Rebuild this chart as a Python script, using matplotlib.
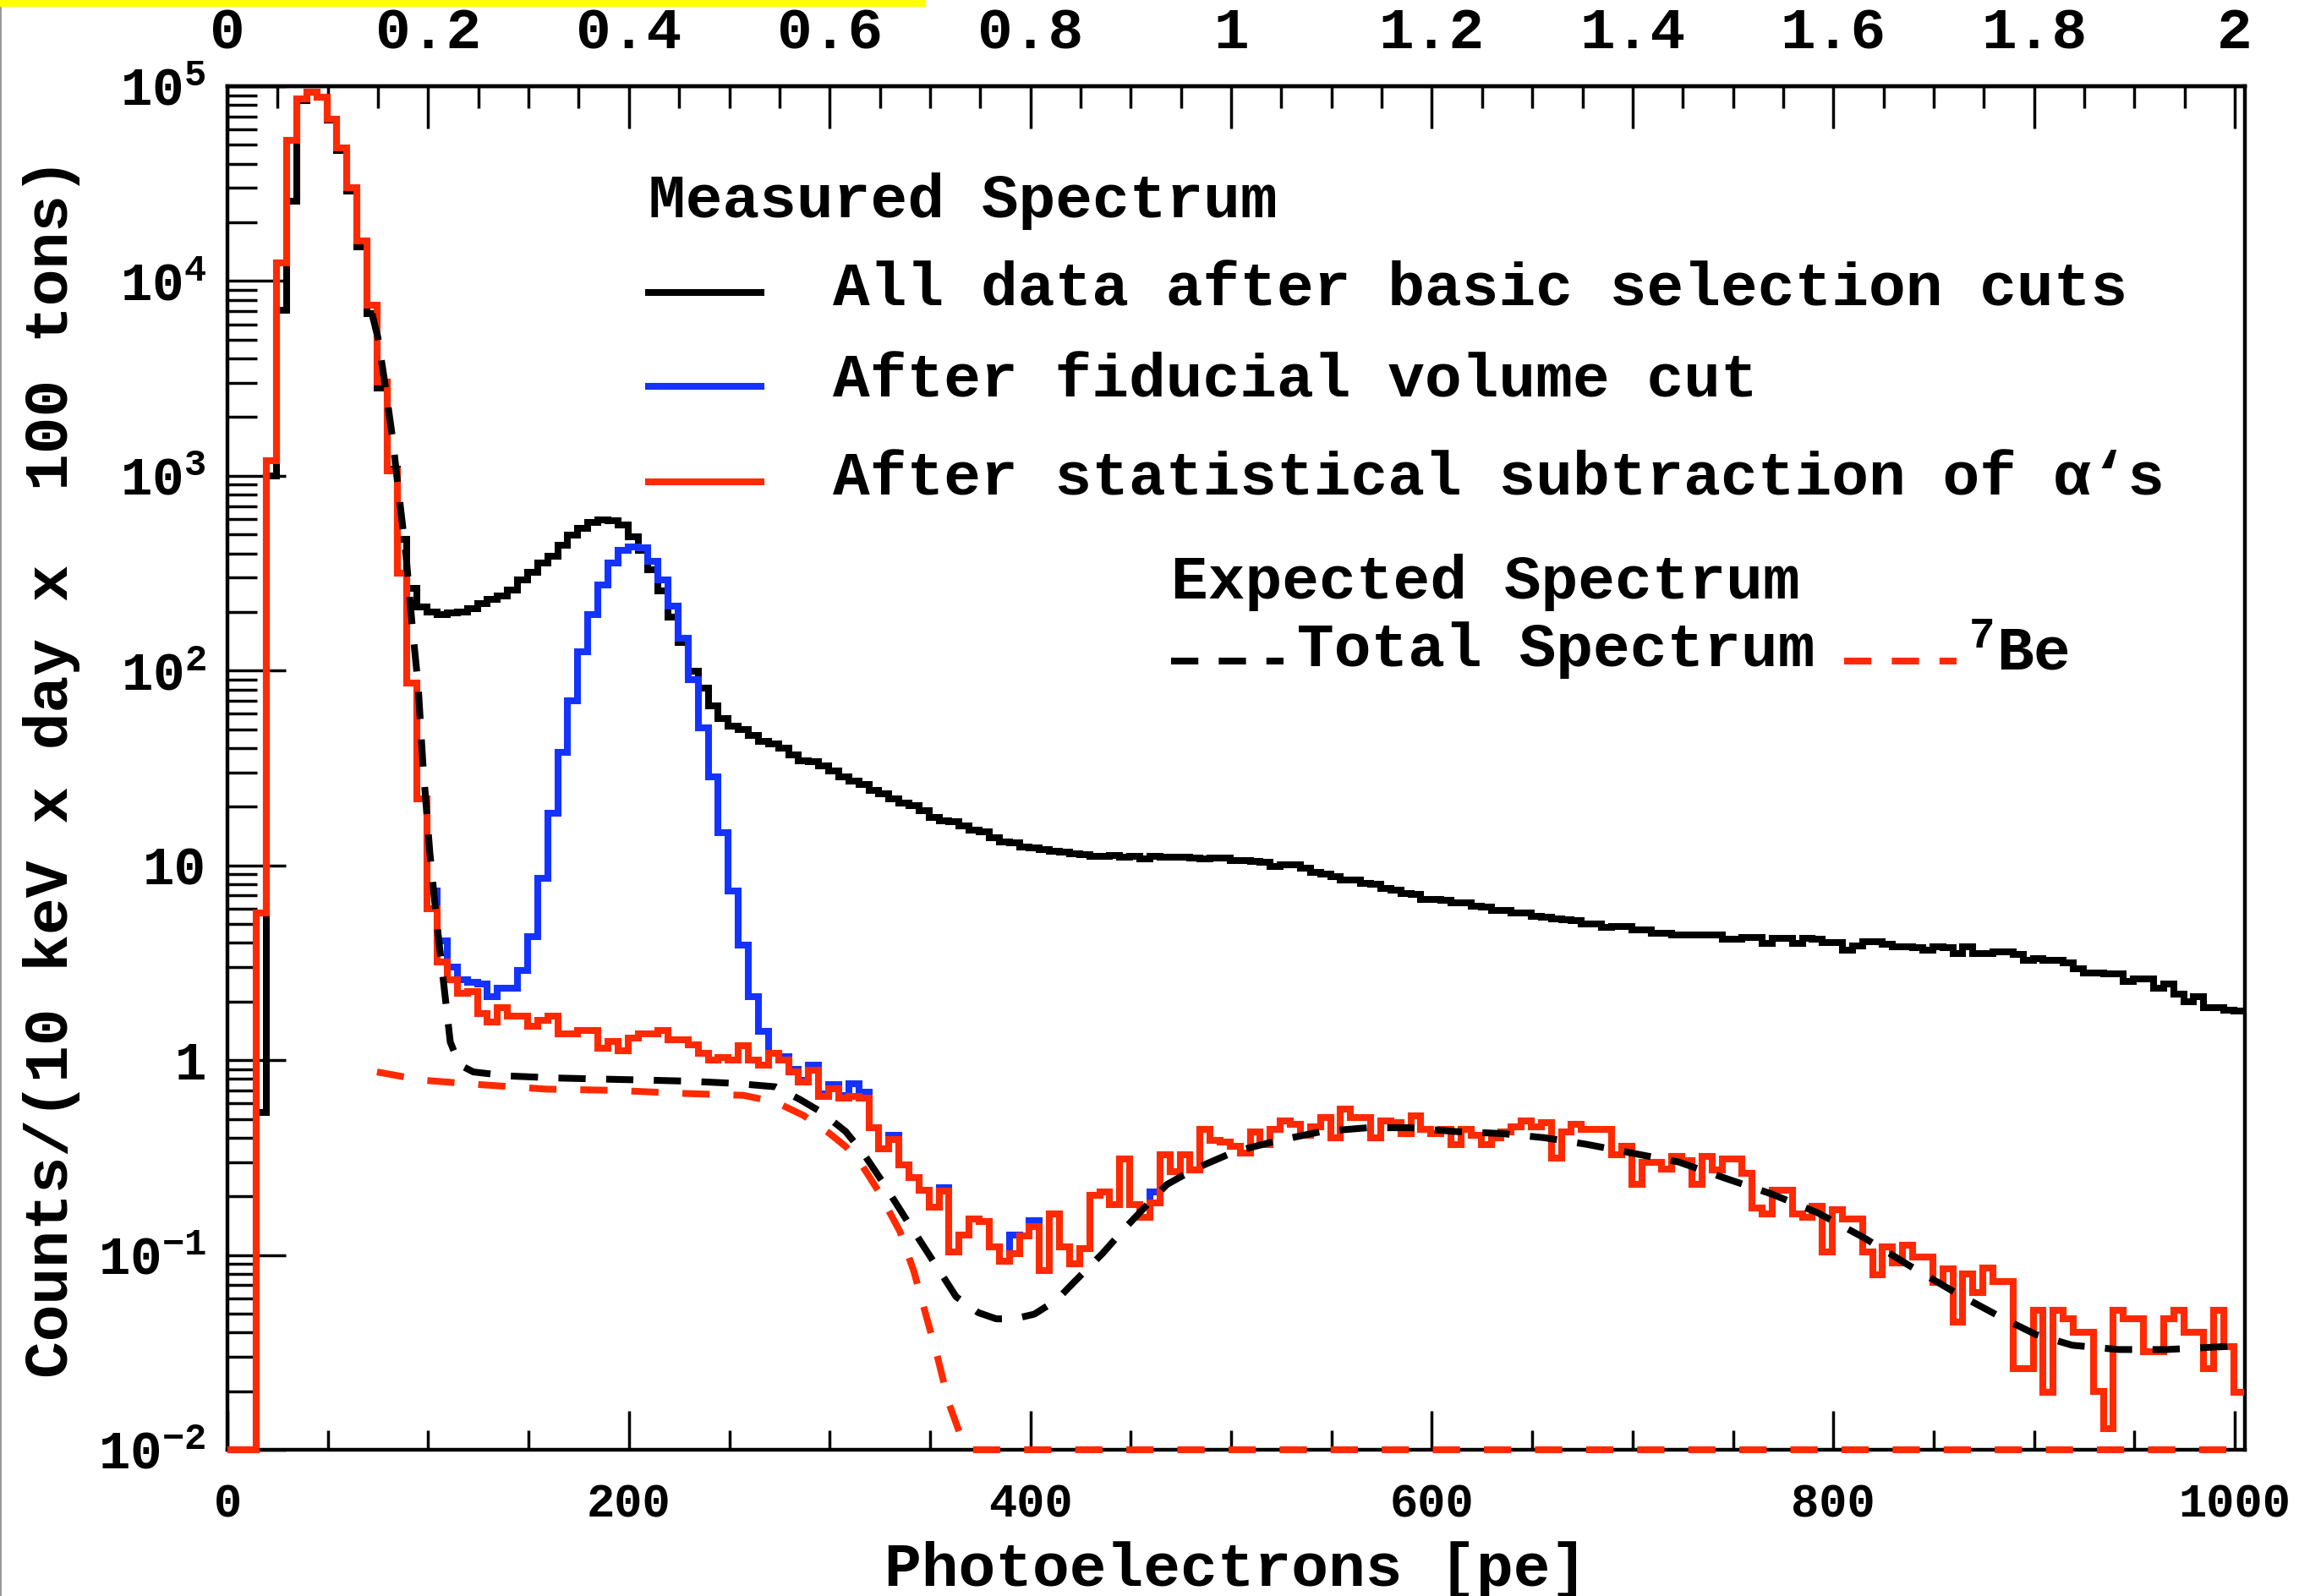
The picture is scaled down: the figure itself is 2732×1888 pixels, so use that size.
import numpy as np
import matplotlib
matplotlib.use('Agg')
import matplotlib.pyplot as plt
from matplotlib.lines import Line2D
from matplotlib.patches import Rectangle
from matplotlib.ticker import MultipleLocator, LogLocator, FixedLocator, FixedFormatter, NullFormatter

plt.rcParams['font.family'] = ['Liberation Mono', 'DejaVu Sans Mono']
plt.rcParams['font.weight'] = 'bold'
plt.rcParams['mathtext.fontset'] = 'custom'
plt.rcParams['mathtext.rm'] = 'Liberation Mono:bold'
plt.rcParams['mathtext.it'] = 'Liberation Mono:bold'
plt.rcParams['mathtext.bf'] = 'Liberation Mono:bold'

# 5 pe bins (10 keV), first bin starts at 0
edges = np.concatenate([[0.0], np.arange(4.5, 1005, 5.0)])

# All data after basic selection cuts (black)
all_data = [
    0, 0, 0, 0.54, 1000, 7100, 25700, 84000, 93000, 88000,
    67000, 47000, 29000, 15000, 6800, 2830, 1080, 470, 265, 213,
    199, 194, 197, 199, 207, 221, 232, 241, 259, 292,
    321, 355, 385, 440, 495, 540, 575, 595, 590, 560,
    484, 415, 330, 256, 188, 139, 99, 81, 66, 57,
    52, 50, 46.4, 43.5, 42, 39.8, 37, 34.5, 34, 32.5,
    30.5, 28.5, 27, 26, 24.3, 23.2, 22, 20.8, 20.3, 19.0,
    17.7, 17.0, 16.8, 16.0, 15.1, 14.8, 13.8, 13.2, 13.0, 12.4,
    12.3, 12.1, 11.8, 11.7, 11.5, 11.4, 11.1, 11.1, 11.2, 11.0,
    11.1, 10.8, 11.1, 11.0, 11.0, 11.0, 10.9, 10.8, 10.9, 10.9,
    10.6, 10.6, 10.5, 10.4, 9.9, 10.1, 10.1, 9.7, 9.2, 9.0,
    8.8, 8.4, 8.4, 8.1, 8.0, 7.6, 7.5, 7.2, 7.1, 6.7,
    6.7, 6.6, 6.4, 6.4, 6.2, 6.1, 5.9, 5.9, 5.7, 5.7,
    5.45, 5.4, 5.3, 5.25, 5.2, 5.0, 5.0, 4.81, 4.87, 4.85,
    4.65, 4.65, 4.5, 4.5, 4.41, 4.41, 4.41, 4.41, 4.40, 4.17,
    4.17, 4.26, 4.26, 3.96, 4.21, 4.21, 3.99, 4.21, 4.2, 4.03,
    4.03, 3.68, 3.86, 4.06, 4.05, 3.94, 3.81, 3.81, 3.8, 3.68,
    3.81, 3.8, 3.53, 3.81, 3.53, 3.53, 3.61, 3.6, 3.49, 3.27,
    3.33, 3.25, 3.25, 3.16, 2.94, 2.79, 2.79, 2.77, 2.77, 2.53,
    2.61, 2.61, 2.33, 2.45, 2.18, 2.0, 2.11, 1.87, 1.87, 1.81,
    1.78,
]

# After statistical subtraction of alphas (red)
alpha_sub = [
    0, 0, 0, 5.7, 1200, 12400, 53000, 86000, 93000, 88000,
    68000, 48000, 30000, 16100, 7500, 3030, 1060, 315, 86, 22,
    6.0, 3.2, 2.6, 2.2, 2.25, 1.73, 1.57, 1.86, 1.68, 1.68,
    1.5, 1.6, 1.68, 1.37, 1.37, 1.42, 1.42, 1.15, 1.25, 1.12,
    1.3, 1.37, 1.37, 1.42, 1.27, 1.27, 1.2, 1.08, 1.0, 1.03,
    1.0, 1.19, 1.0, 0.94, 1.08, 1.0, 0.87, 0.77, 0.89, 0.65,
    0.71, 0.64, 0.65, 0.64, 0.45, 0.35, 0.39, 0.29, 0.25, 0.215,
    0.176, 0.213, 0.104, 0.127, 0.153, 0.148, 0.11, 0.093, 0.102, 0.125,
    0.14, 0.083, 0.162, 0.11, 0.09, 0.108, 0.202, 0.21, 0.181, 0.31,
    0.181, 0.156, 0.185, 0.327, 0.267, 0.327, 0.272, 0.44, 0.386, 0.38,
    0.36, 0.333, 0.43, 0.37, 0.44, 0.49, 0.47, 0.41, 0.456, 0.51,
    0.40, 0.56, 0.51, 0.51, 0.40, 0.49, 0.48, 0.42, 0.52, 0.44,
    0.42, 0.44, 0.37, 0.44, 0.41, 0.37, 0.40, 0.43, 0.456, 0.49,
    0.456, 0.48, 0.315, 0.43, 0.47, 0.44, 0.44, 0.44, 0.327, 0.36,
    0.23, 0.30, 0.30, 0.277, 0.32, 0.304, 0.23, 0.32, 0.272, 0.31,
    0.31, 0.262, 0.174, 0.162, 0.214, 0.214, 0.162, 0.156, 0.178, 0.104,
    0.171, 0.153, 0.153, 0.104, 0.079, 0.11, 0.091, 0.112, 0.098, 0.098,
    0.072, 0.085, 0.045, 0.080, 0.064, 0.086, 0.073, 0.073, 0.026, 0.026,
    0.052, 0.0197, 0.052, 0.047, 0.040, 0.040, 0.020, 0.0129, 0.052, 0.047,
    0.047, 0.032, 0.032, 0.047, 0.052, 0.040, 0.040, 0.026, 0.052, 0.034,
    0.0197,
]

# After fiducial volume cut (blue): bins 99.5-324.5 pe, elsewhere hidden under the red one
fv_start = 20
fv_cut = [
    7.4, 4.1, 3.0, 2.6, 2.5, 2.45, 2.12, 2.35, 2.35, 2.9,
    4.3, 8.6, 18.5, 38, 70, 125, 193, 276, 356, 415,
    430, 426, 365, 291, 214, 146, 90, 51, 28.6, 14.7,
    7.4, 3.9, 2.12, 1.41, 1.08, 1.04, 0.90, 0.79, 0.94, 0.67,
    0.75, 0.66, 0.76, 0.685,
]
fv_above = {332: 0.41, 357: 0.222, 392: 0.127, 402: 0.15, 462: 0.21}

# Expected total spectrum (black dashed)
total_pe = [72, 75, 78, 82, 85.5, 89, 92, 95, 97.3, 100.8, 104.2, 107.6, 111, 115, 118,
            122.5, 140, 164, 186, 209, 230, 253, 273, 285, 296, 308, 317, 326, 338, 347,
            354, 363, 374, 383, 392, 402, 413, 422, 436, 447, 459, 468, 482, 502, 523,
            545, 568, 589, 612, 635, 656, 677, 700, 723, 746, 769, 792, 815, 838, 862,
            885, 901, 919, 942, 966, 998]
total_val = [6800, 5100, 3200, 1630, 794, 387, 172, 84, 34, 11.7, 5.2, 2.54, 1.24, 0.98, 0.92,
             0.87, 0.83, 0.81, 0.80, 0.79, 0.78, 0.76, 0.73, 0.63, 0.54, 0.43, 0.33, 0.24, 0.153, 0.11,
             0.085, 0.061, 0.0506, 0.047, 0.047, 0.0497, 0.0586, 0.073, 0.102, 0.137, 0.185, 0.23, 0.277, 0.34, 0.386,
             0.43, 0.45, 0.45, 0.43, 0.42, 0.40, 0.37, 0.333, 0.30, 0.248, 0.206, 0.165, 0.123, 0.088, 0.063,
             0.047, 0.039, 0.0344, 0.0327, 0.0327, 0.034]

# Expected 7Be (red dashed)
be7_pe = [74.5, 97, 125, 159, 193, 227, 257, 273, 287, 300, 308, 316, 324, 335, 342,
          348, 353.7, 359.4, 365, 371, 1000]
be7_val = [0.87, 0.79, 0.75, 0.71, 0.70, 0.675, 0.66, 0.61, 0.52, 0.42, 0.36, 0.29, 0.215, 0.132, 0.082,
           0.049, 0.030, 0.0173, 0.012, 0.01, 0.01]

bottom_ticks = [0, 200, 400, 600, 800, 1000]
top_ticks = [0, 0.2, 0.4, 0.6, 0.8, 1, 1.2, 1.4, 1.6, 1.8, 2]
top_labels = ['0', '0.2', '0.4', '0.6', '0.8', '1', '1.2', '1.4', '1.6', '1.8', '2']
y_ticks = [1e-2, 1e-1, 1, 10, 1e2, 1e3, 1e4, 1e5]
y_labels = [r'$10^{-2}$', r'$10^{-1}$', '1', '10', r'$10^{2}$', r'$10^{3}$', r'$10^{4}$', r'$10^{5}$']

RED = '#ff2a00'
BLUE = '#1533ff'
LW = 5.8
W, H = 2732.0, 1888.0

fig = plt.figure(figsize=(27.32, 18.88), dpi=100)
ax = fig.add_axes([269 / W, 1 - 1715 / H, (2655 - 269) / W, (1715 - 102) / H])
ax.set_yscale('log')
ax.set_xlim(0, 1005)
ax.set_ylim(1e-2, 1e5)

floor = 1e-2
red = np.maximum(np.array(alpha_sub, dtype=float), floor)
black = np.maximum(np.array(all_data, dtype=float), floor)
blue = red.copy()
blue[fv_start:fv_start + len(fv_cut)] = fv_cut
for c, v in fv_above.items():
    blue[(c - 2) // 5] = v

ax.stairs(black, edges, baseline=None, color='black', lw=LW, clip_on=False, zorder=3)
ax.stairs(blue, edges, baseline=None, color=BLUE, lw=LW, clip_on=False, zorder=3.1)
ax.stairs(red, edges, baseline=None, color=RED, lw=LW, clip_on=False, zorder=3.2)
ax.plot(total_pe, total_val, color='black', lw=LW, dashes=(4, 3), zorder=3.3)
ax.plot(be7_pe, be7_val, color=RED, lw=LW, dashes=(4, 3.5), clip_on=False, zorder=3.4)

for s in ax.spines.values():
    s.set_linewidth(3.2)

ax.xaxis.set_major_locator(FixedLocator(bottom_ticks))
ax.xaxis.set_minor_locator(MultipleLocator(50))
ax.yaxis.set_major_locator(FixedLocator(y_ticks))
ax.yaxis.set_major_formatter(FixedFormatter(y_labels))
ax.yaxis.set_minor_locator(LogLocator(base=10, subs=np.arange(2, 10), numticks=20))
ax.yaxis.set_minor_formatter(NullFormatter())
ax.tick_params(axis='x', which='major', direction='in', length=33, width=2.5, labelsize=40, pad=28, top=False)
ax.tick_params(axis='x', which='minor', direction='in', length=16.5, width=2.5, top=False)
ax.tick_params(axis='y', which='major', direction='in', length=50, width=2.5, labelsize=45, pad=18, right=False)
ax.tick_params(axis='y', which='minor', direction='in', length=25, width=2.5, right=False)

sec = ax.secondary_xaxis('top', functions=(lambda x: x / 500.0, lambda x: x * 500.0))
sec.xaxis.set_major_locator(FixedLocator(top_ticks))
sec.xaxis.set_major_formatter(FixedFormatter(top_labels))
sec.xaxis.set_minor_locator(MultipleLocator(0.05))
sec.tick_params(axis='x', which='major', direction='in', length=36, width=2.5, labelsize=50, pad=22)
sec.tick_params(axis='x', which='minor', direction='in', length=19, width=2.5)
sec.spines['top'].set_linewidth(3.2)

fs = 52.5
fig.text(61 / W, 1 - 908 / H, 'Counts/(10 keV x day x  100 tons)', rotation=90,
         ha='center', va='center', fontsize=fs)
fig.text(1462 / W, 1 - 1857 / H, 'Photoelectrons [pe]', ha='center', va='center', fontsize=fs)

# legend block
fig.text(767 / W, 1 - 257 / H, 'Measured Spectrum', ha='left', va='baseline', fontsize=fs)
legend_rows = [('black', 346, 362, 'All data after basic selection cuts'),
               (BLUE, 457, 469, 'After fiducial volume cut'),
               (RED, 570, 585, "After statistical subtraction of α‘s")]
for col, ly, by, label in legend_rows:
    fig.add_artist(Line2D([767 / W, 900 / W], [1 - ly / H, 1 - ly / H], color=col, lw=LW))
    fig.text(985 / W, 1 - by / H, label, ha='left', va='baseline', fontsize=fs)

fig.text(1385 / W, 1 - 708 / H, 'Expected Spectrum', ha='left', va='baseline', fontsize=fs)
fig.add_artist(Line2D([1385 / W, 1518 / W], [1 - 782 / H, 1 - 782 / H], color='black', lw=LW, dashes=(4, 3)))
fig.text(1534 / W, 1 - 788 / H, 'Total Spectrum', ha='left', va='baseline', fontsize=fs)
fig.add_artist(Line2D([2181 / W, 2314 / W], [1 - 782 / H, 1 - 782 / H], color=RED, lw=LW, dashes=(4, 3)))
fig.text(2328 / W, 1 - 792 / H, r'$^{7}$Be', ha='left', va='baseline', fontsize=fs)

# screenshot edges
fig.patches.append(Rectangle((0, 1 - 7 / H), 1094 / W, 7 / H, transform=fig.transFigure,
                             color='#ffff00', zorder=10))
fig.add_artist(Line2D([1 / W, 1 / W], [0, 1 - 8 / H], color='#9a9a9a', lw=1.5))

fig.savefig('out.png', dpi=100)
